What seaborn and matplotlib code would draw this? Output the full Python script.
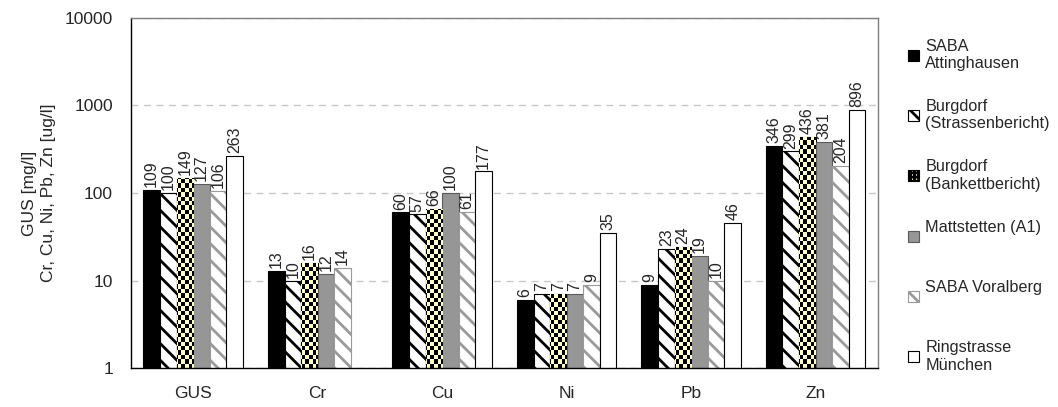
# =========================================================
# GUS + METALES PESADOS - GRAFICO DE BARRAS (ESCALA LOG)
# =========================================================

import numpy as np
import pandas as pd

import matplotlib
matplotlib.use('Agg')
import matplotlib.pyplot as plt
import seaborn as sns
from matplotlib.colors import ListedColormap
from matplotlib.patches import Patch
from matplotlib.ticker import NullLocator


# =========================================================
# DATOS
# =========================================================

parametros = ['GUS', 'Cr', 'Cu', 'Ni', 'Pb', 'Zn']

estaciones = [
    'SABA\nAttinghausen',
    'Burgdorf\n(Strassenbericht)',
    'Burgdorf\n(Bankettbericht)',
    'Mattstetten (A1)',
    'SABA Voralberg',
    'Ringstrasse\nMünchen',
]

saba_attinghausen = [109, 13, 60, 6, 9, 346]
burgdorf_strasse = [100, 10, 57, 7, 23, 299]
burgdorf_bankett = [149, 16, 66, 7, 24, 436]
mattstetten = [127, 12, 100, 7, 19, 381]
saba_voralberg = [106, 14, 61, 9, 10, 204]
ringstrasse = [263, np.nan, 177, 35, 46, 896]

series = [
    saba_attinghausen,
    burgdorf_strasse,
    burgdorf_bankett,
    mattstetten,
    saba_voralberg,
    ringstrasse,
]

ticks_y = [1, 10, 100, 1000, 10000]

# Tabla larga para seaborn
filas = []
for estacion, valores in zip(estaciones, series):
    for parametro, valor in zip(parametros, valores):
        filas.append({'parametro': parametro, 'estacion': estacion, 'valor': valor})
df = pd.DataFrame(filas)


# =========================================================
# ESTILO
# =========================================================

sns.set_style('white')
plt.rcParams['font.family'] = ['Liberation Sans', 'DejaVu Sans']
plt.rcParams['hatch.linewidth'] = 2.0

relleno = ['black', 'white', '#ffffc8', '#969696', 'white', 'white']
bordes = ['black', 'black', 'black', '#5a5a5a', '#9a9a9a', 'black']
tramas = [None, '\\\\', None, None, '\\\\', None]
colores = dict(zip(estaciones, relleno))


# =========================================================
# GRAFICO
# =========================================================

fig = plt.figure(figsize=(10.58, 4.07), dpi=100)
ax = fig.add_axes([0.1238, 0.0958, 0.7060, 0.8600])

sns.barplot(
    data=df,
    x='parametro',
    y='valor',
    hue='estacion',
    order=parametros,
    hue_order=estaciones,
    palette=colores,
    saturation=1,
    errorbar=None,
    width=0.8,
    edgecolor='black',
    linewidth=0.8,
    legend=False,
    ax=ax,
)

ax.set_yscale('log')
ax.set_ylim(1, 10000)
ax.set_xlim(-0.5, len(parametros) - 0.5)

# Estilo de cada serie
for i, contenedor in enumerate(ax.containers):
    for barra in contenedor:
        barra.set_edgecolor(bordes[i])
        if tramas[i]:
            barra.set_hatch(tramas[i])

# Patron de ajedrez para Burgdorf (Bankettbericht)
ajedrez = np.indices((80, 210)).sum(axis=0) % 2
for barra in ax.containers[2]:
    im = ax.imshow(
        ajedrez,
        cmap=ListedColormap(['#ffffc8', 'black']),
        extent=(0, 1, 0, 1),
        transform=ax.transAxes,
        interpolation='nearest',
        aspect='auto',
        zorder=barra.get_zorder() + 0.1,
    )
    im.set_clip_path(barra)

ax.set_yscale('log')
ax.set_ylim(1, 10000)
ax.set_xlim(-0.5, len(parametros) - 0.5)

# Valores encima de las barras
for contenedor in ax.containers:
    ax.bar_label(contenedor, fmt='%.0f', rotation=90, padding=2, fontsize=11.5)

# Ejes
ax.set_yticks(ticks_y)
ax.set_yticklabels([str(t) for t in ticks_y])
ax.yaxis.set_minor_locator(NullLocator())
ax.tick_params(axis='y', length=5, width=1, color='#7f7f7f', labelsize=12.5, pad=8)
ax.tick_params(axis='x', length=0, labelsize=12.5, pad=13)

ax.set_xlabel('')
ax.set_ylabel('GUS [mg/l]\nCr, Cu, Ni, Pb, Zn [ug/l]', fontsize=12.5,
              linespacing=1.35, labelpad=6)

ax.yaxis.grid(True, linestyle=(0, (5, 4)), color='#c8c8c8', linewidth=1)
ax.set_axisbelow(True)

for lado in ['left', 'bottom']:
    ax.spines[lado].set_color('black')
    ax.spines[lado].set_linewidth(1)
for lado in ['top', 'right']:
    ax.spines[lado].set_color('#7f7f7f')
    ax.spines[lado].set_linewidth(1)

# Leyenda
manijas = []
for i, estacion in enumerate(estaciones):
    manijas.append(Patch(
        facecolor=relleno[i],
        edgecolor=bordes[i],
        hatch='++++' if i == 2 else tramas[i],
        linewidth=0.8,
    ))
etiquetas = [e if '\n' in e else e + '\n ' for e in estaciones]

fig.legend(
    manijas,
    etiquetas,
    loc='upper left',
    bbox_to_anchor=(0.8585, 0.905),
    frameon=False,
    fontsize=11.7,
    handlelength=0.65,
    handleheight=0.65,
    handletextpad=0.4,
    labelspacing=1.72,
    borderpad=0,
    borderaxespad=0,
)

fig.savefig('out.png', dpi=100)
